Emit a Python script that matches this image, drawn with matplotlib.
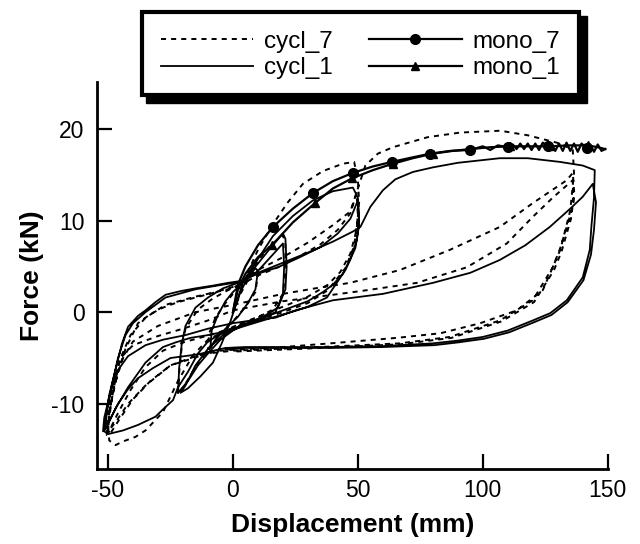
import numpy as np
import matplotlib
matplotlib.use("Agg")
import matplotlib.pyplot as plt
from matplotlib.patches import Rectangle
from matplotlib.lines import Line2D

plt.rcParams["font.family"] = ["Liberation Sans", "DejaVu Sans"]
plt.rcParams["axes.unicode_minus"] = False

# ─── Data ────────────────────────────────────────────────────────────────────
# cyclic test, specimen 1 (solid)
cycl1_x = [0, 3, 6, 9, 10, 9, 6, 2, -3, -7, -9, -8.5, -6, -3, 0, 3, 6,
           10, 15, 20, 21, 21.5, 21, 18, 12, 5, 0, -5, -10, -14, -18, -22, -21.5,
           -20.5, -19, -15, -10, -4, 1, 4,
           10, 16, 20, 20.5, 20, 17, 10, 3, -4, -10, -15, -19, -21, -18, -13, -8,
           -4.5, -1, 2, 4,
           10, 16, 24, 32, 40, 48, 50, 50.5, 49.6, 47, 44, 40, 36, 30, 23, 15, 9.6,
           4, -4, -10, -14, -18, -22,
           -24, -28, -31, -38, -44, -50, -51.5,
           -51, -49.5, -47, -44.5, -42, -38, -35, -31, -27, -21, -15, -8, -2, 3,
           10, 18, 26, 35, 42, 47, 50, 50.5, 49, 45, 37.6, 30, 25.6, 12, -1.2, -10,
           -17, -23, -28, -35, -42, -47, -51,
           -50.5, -48.5, -46, -43, -40, -35, -27, -15, -2, 3,
           10, 20, 30, 40, 48, 51, 55, 60, 65, 72, 80, 90, 106.8, 118, 130.8, 140,
           144.8,
           144.5, 143.5, 142.8, 140, 133.6, 127, 120, 110, 100, 90, 80, 60, 39, 20, 5,
           -3,
           -14, -25, -32, -38, -42, -46, -49, -52,
           -51.5, -49, -46, -42, -35, -28, -19, -10, 0, 10, 17, 25, 40, 60, 80, 95,
           106.8, 117, 126.8, 135, 140, 144,
           145.3, 144.5, 143.3, 140.3, 134, 127.5, 120.5, 110.5, 100.5, 90, 80.5, 60,
           39, 20, 5, -3]
cycl1_y = [0, 2.2, 3.8, 4.8, 4.5, 2.5, 1, -0.5, -1.8, -3, -3.8, -2, -0.3, 1.2, 2.2,
           3, 4,
           5.3, 7, 8.6, 8, 5, 2.5, 0.5, -0.5, -1.3, -2, -3, -4.5, -5.8, -7.5, -8.8,
           -6, -3.5, -1.5, 0.5, 1.6, 2.6, 3.1, 3.3,
           4.5, 6.3, 7.5, 5, 2, 0, -0.8, -1.5, -2.5, -4, -5.8, -8, -8.8, -8.3, -7,
           -5.5, -3.4, -1, 1.5, 3.3,
           5.8, 8.3, 10.5, 12.2, 13.2, 13.6, 12.5, 10, 7.9, 5.8, 4.2, 3, 2.2, 1.2,
           0.5, -0.3, -0.9, -1.4, -2.2, -3.2, -4.5, -6.5, -8.2,
           -9.6, -10.6, -11.4, -12.3, -12.9, -13.3, -13,
           -11.5, -9, -6.3, -3.5, -1.6, -0.4, 0.2, 1.1, 1.9, 2.3, 2.6, 2.9, 3.2, 3.4,
           4.2, 4.9, 5.9, 7.1, 8.6, 10.2, 12.2, 9.5, 7, 4.6, 1.6, 0.6, 0.2, -0.9, -2,
           -2.5, -2.8, -3.3, -3.8, -5.5, -8.2, -10.5, -12.8,
           -11, -8, -5, -2.5, -1.2, 0, 1.6, 2.5, 3.1, 3.3,
           4.3, 5.4, 6.5, 7.7, 8.8, 9.3, 11.5, 13.3, 14.5, 15.3, 15.8, 16.3, 16.8,
           16.8, 16.4, 16.0, 15.5,
           12.5, 9.5, 6.8, 3.8, 1.3, -0.1, -0.9, -2.0, -2.7, -3.1, -3.4, -3.7, -3.8,
           -3.8, -3.8, -3.9,
           -4.6, -5, -6.1, -7.2, -8.4, -10, -11.6, -13,
           -11.5, -8.7, -6.3, -4.8, -3.6, -3, -2.5, -1.8, -1.2, -0.8, -0.6, 0.2, 1.3,
           2.0, 3.2, 4.3, 5.7, 7.3, 9.3, 11.3, 12.6, 14,
           12, 9, 6.3, 3.5, 1.1, -0.3, -1.1, -2.2, -2.9, -3.3, -3.6, -3.8, -3.9,
           -3.9, -3.9, -4.1]

# cyclic test, specimen 7 (dashed)
cycl7_x = [0, 3, 6, 9, 10, 9, 5, 1, -4, -8, -10, -9.5, -7, -3, 0, 4,
           10, 15, 20, 21, 21, 20, 16, 10, 3, -4, -10, -15, -19, -22, -21.5, -20.5,
           -19, -14, -8, -2, 4,
           10, 16, 22, 28, 36, 44, 48.5, 50, 50.5, 49.5, 47, 43, 38, 30, 20, 10, 0,
           -10, -16, -22, -28, -35, -39, -44, -47, -49.5,
           -50, -48.5, -46, -43, -38, -33, -28, -22, -15, -8, -2, 3,
           10, 18, 26, 35, 42, 47, 49.5, 50, 48.5, 45, 38, 30, 20, 8, -2, -12, -20,
           -28, -35, -41, -46, -50,
           -49.5, -47.5, -45, -41, -35, -27, -15, -2, 3,
           10, 20, 30, 40, 47, 50, 53, 58, 64, 78, 91, 107, 118, 131, 136,
           136.5, 135, 131, 124, 113.6, 99, 83, 65.6, 39, 20, 0, -5,
           -15, -25, -33, -40, -45, -49, -50.5,
           -50, -48, -45, -40, -30, -20, -10, 0, 20, 40, 53.6, 73.6, 93.6, 109.6,
           120, 128, 136,
           136.3, 134.8, 131, 128, 120, 106.8, 86.8, 66.8, 26.8, 0, -10,
           -25, -35, -42, -47, -50,
           -49.5, -47.5, -44, -40, -30, -15, 0, 20, 35, 46.8, 66.8, 86.8, 106.8, 120,
           133.6, 136,
           136.6, 135.3, 131.5, 128.5, 120.5, 107.5, 87.5, 67, 27, 0]
cycl7_y = [0, 2, 3.5, 4.6, 4.2, 2.2, 0.6, -0.7, -2, -3.4, -4, -2.3, -0.6, 1, 2, 3,
           5.6, 7.3, 8.4, 7.4, 4.5, 2, 0.3, -0.6, -1.3, -2.3, -4.2, -6, -7.8, -9,
           -6.5, -3.8, -1.8, 0.3, 1.5, 2.4, 3.2,
           6.8, 9.6, 12, 14, 15.4, 16.2, 16.4, 14.5, 12, 9, 6.4, 4.4, 3, 1.7, 0.6,
           -0.5, -1.6, -3, -4.7, -7.5, -10.9, -12.9, -13.6, -14.1, -14.5, -14,
           -12.5, -9.5, -6.5, -4, -1.2, -0.2, 0.5, 1.1, 1.6, 2.1, 2.6, 3,
           4, 4.9, 6, 7.4, 9, 10.8, 13, 10.5, 7.2, 4.8, 2.4, 1, 0, -1, -1.9, -2.7,
           -3.3, -4.2, -6, -8.5, -11, -13.2,
           -11, -8, -5, -2.5, -0.6, 0.8, 1.7, 2.5, 2.9,
           4.6, 6, 7.6, 9.5, 11, 13.5, 16, 17.3, 18, 19.1, 19.6, 19.8, 19.3, 18.4,
           17.7,
           15.2, 11.1, 6.8, 2.4, 0.2, -1.2, -2.3, -2.8, -3.4, -3.8, -4.1, -4.2,
           -4.8, -5.8, -7.5, -9.5, -11.5, -13.2, -13.4,
           -11, -7.5, -5, -3.6, -2.6, -1.8, -0.9, 0.2, 1.2, 1.9, 2.4, 3.2, 4.9, 7.5,
           10.4, 12.5, 14.4,
           12, 10.4, 7, 4.9, 1.3, -0.9, -2.7, -3.4, -3.9, -4.2, -4.5,
           -5.8, -8, -10, -12, -13,
           -11, -8, -5, -3.2, -1.5, 0, 0.8, 2, 2.7, 3.2, 4.6, 6.8, 9.3, 11.9, 14.4,
           15.2,
           13, 10.2, 6.6, 4.6, 1.1, -1.0, -2.8, -3.5, -4.0, -4.3]

# monotonic tests
mono7_x = [0, 2, 5, 10, 16, 24, 32, 40, 48, 56, 63.6, 72, 79, 87, 95, 100, 103,
           106, 110, 112, 113.5, 115, 116.5, 118, 119.5, 121, 122.5, 124, 126,
           127.5, 129, 130.5, 132, 133.5, 135, 136.5, 138, 139.5, 141.6, 143,
           144.5, 146, 147.5, 149]
mono7_y = [0, 3, 5, 7.3, 9.3, 11.3, 13.0, 14.3, 15.2, 15.9, 16.4, 16.9, 17.3,
           17.6, 17.7, 18.1, 17.7, 18.2, 18.0, 18.3, 17.8, 18.4, 17.8, 18.4, 17.7,
           18.4, 17.7, 18.5, 18.1, 18.4, 17.6, 18.4, 17.6, 18.5, 17.6, 18.4, 17.5,
           18.4, 17.9, 18.3, 17.5, 18.3, 17.6, 17.8]
mono7_marks = [16, 32, 48, 63.6, 79, 95, 110, 126, 141.6]

mono1_x = [0, 2, 5, 10, 15.6, 24, 32.8, 40, 47.6, 56, 64, 72, 80, 88, 95, 103,
           111, 119, 127, 135, 142, 146, 149]
mono1_y = [0, 2.5, 4.2, 6, 7.3, 9.8, 11.9, 13.5, 14.6, 15.5, 16.2, 16.8, 17.3,
           17.6, 17.8, 18.0, 18.1, 18.1, 18.1, 18.2, 18.2, 18.0, 17.8]
mono1_marks = [15.6, 32.8, 47.6, 64, 80, 95, 111, 127, 142]

X_TICKS = [-50, 0, 50, 100, 150]
Y_TICKS = [-10, 0, 10, 20]

# ─── Figure ──────────────────────────────────────────────────────────────────
fig = plt.figure(figsize=(6.4, 5.44), dpi=100)
ax = fig.add_axes([0.1516, 0.138, 0.798, 0.711])

DASH = (0, (2.6, 2.6))
ax.plot(cycl7_x, cycl7_y, color="black", lw=1.4, ls=DASH)
ax.plot(cycl1_x, cycl1_y, color="black", lw=1.3, ls="-")
ax.plot(mono7_x, mono7_y, color="black", lw=1.6, marker="o", ms=7,
        markevery=[mono7_x.index(v) for v in mono7_marks])
ax.plot(mono1_x, mono1_y, color="black", lw=1.6, marker="^", ms=6,
        markevery=[mono1_x.index(v) for v in mono1_marks])

ax.set_xlim(-54.4, 150)
ax.set_ylim(-17.1, 25.1)
ax.set_xticks(X_TICKS)
ax.set_yticks(Y_TICKS)
ax.spines["top"].set_visible(False)
ax.spines["right"].set_visible(False)
for s in ("left", "bottom"):
    ax.spines[s].set_linewidth(2)
ax.tick_params(direction="in", length=11, width=1.6, labelsize=16.5)
ax.tick_params(axis="x", pad=7)
ax.tick_params(axis="y", pad=9)
ax.set_xlabel("Displacement (mm)", fontsize=19, fontweight="bold", labelpad=8)
ax.set_ylabel("Force (kN)", fontsize=19, fontweight="bold", labelpad=5)

# ─── Legend box with heavy shadow ────────────────────────────────────────────
W, H = 640, 544
fig.patches.append(Rectangle((146 / W, 1 - 103 / H), 441 / W, 87 / H,
                             transform=fig.transFigure, facecolor="black",
                             edgecolor="black", zorder=1))
fig.patches.append(Rectangle((142 / W, 1 - 95 / H), 437 / W, 83 / H,
                             transform=fig.transFigure, facecolor="white",
                             edgecolor="black", lw=3, zorder=2))
handles = [
    Line2D([], [], color="black", lw=1.4, ls=DASH),
    Line2D([], [], color="black", lw=1.3),
    Line2D([], [], color="black", lw=1.6, marker="o", ms=7),
    Line2D([], [], color="black", lw=1.6, marker="^", ms=6),
]
fig.legend(handles, ["cycl_7", "cycl_1", "mono_7", "mono_1"], ncol=2,
           loc="center", bbox_to_anchor=(360.5 / W, 1 - 55 / H), frameon=False,
           fontsize=17.5, handlelength=3.8, handletextpad=0.45,
           columnspacing=1.5, labelspacing=0.2)

fig.savefig("out.png", dpi=100)
